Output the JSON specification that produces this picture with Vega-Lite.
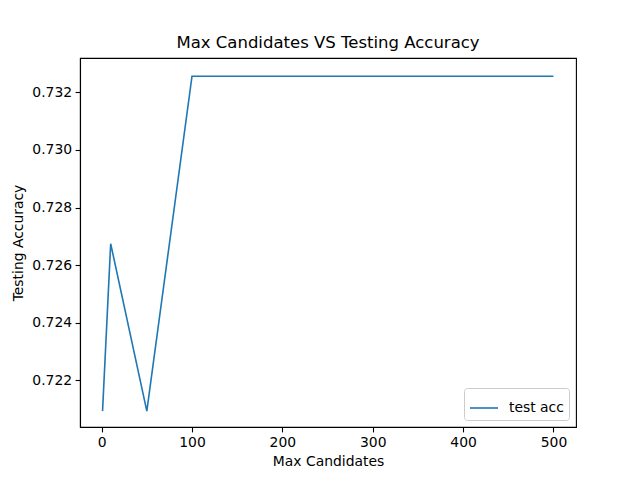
{
  "$schema": "https://vega.github.io/schema/vega-lite/v6.json",
  "width": 496,
  "height": 369,
  "autosize": {"type": "none"},
  "padding": {"left": 80, "top": 58, "right": 64, "bottom": 53},
  "background": "white",
  "title": {
    "text": "Max Candidates VS Testing Accuracy",
    "font": "DejaVu Sans",
    "fontSize": 16.5,
    "fontWeight": "normal",
    "color": "black",
    "offset": 7
  },
  "config": {
    "view": {"stroke": "black", "strokeWidth": 1.1},
    "axis": {
      "labelFont": "DejaVu Sans",
      "labelFontSize": 13.9,
      "labelColor": "black",
      "titleFont": "DejaVu Sans",
      "titleFontSize": 13.9,
      "titleFontWeight": "normal",
      "titleColor": "black",
      "domainColor": "black",
      "domainWidth": 1.1,
      "tickColor": "black",
      "tickWidth": 1.1,
      "tickSize": 4.9,
      "labelPadding": 3.5,
      "grid": false
    }
  },
  "data": {
    "values": [
      {"max_candidates": 1, "accuracy": 0.720930, "series": "test acc"},
      {"max_candidates": 10, "accuracy": 0.726744, "series": "test acc"},
      {"max_candidates": 50, "accuracy": 0.720930, "series": "test acc"},
      {"max_candidates": 100, "accuracy": 0.732558, "series": "test acc"},
      {"max_candidates": 200, "accuracy": 0.732558, "series": "test acc"},
      {"max_candidates": 300, "accuracy": 0.732558, "series": "test acc"},
      {"max_candidates": 400, "accuracy": 0.732558, "series": "test acc"},
      {"max_candidates": 500, "accuracy": 0.732558, "series": "test acc"}
    ]
  },
  "mark": {"type": "line", "strokeWidth": 1.6},
  "encoding": {
    "x": {
      "field": "max_candidates",
      "type": "quantitative",
      "title": "Max Candidates",
      "scale": {"domain": [-23.95, 524.95], "nice": false, "zero": false},
      "axis": {"values": [0, 100, 200, 300, 400, 500], "titlePadding": 5}
    },
    "y": {
      "field": "accuracy",
      "type": "quantitative",
      "title": "Testing Accuracy",
      "scale": {"domain": [0.72038, 0.73319], "nice": false, "zero": false},
      "axis": {"values": [0.722, 0.724, 0.726, 0.728, 0.73, 0.732], "format": ".3f", "titlePadding": 6}
    },
    "color": {
      "field": "series",
      "type": "nominal",
      "scale": {"range": ["#1f77b4"]},
      "legend": {
        "title": null,
        "orient": "bottom-right",
        "offset": 7,
        "symbolType": "stroke",
        "symbolStrokeWidth": 1.6,
        "symbolSize": 784,
        "labelFont": "DejaVu Sans",
        "labelFontSize": 13.9,
        "labelColor": "black",
        "labelOffset": 10,
        "padding": 5,
        "strokeColor": "#cccccc",
        "fillColor": "white",
        "cornerRadius": 3
      }
    }
  }
}
